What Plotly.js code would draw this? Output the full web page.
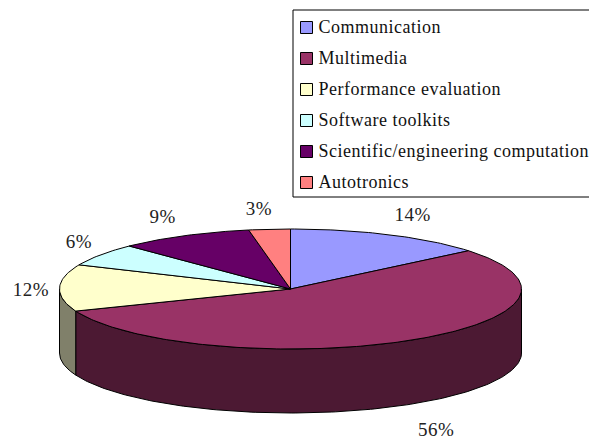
<!DOCTYPE html>
<html>
<head>
<meta charset="utf-8">
<script src="https://cdn.plot.ly/plotly-3.0.1.min.js"></script>
<style>html,body{margin:0;padding:0;background:#fff}#chart{width:589px;height:438px}</style>
</head>
<body>
<div id="chart"></div>
<script>
const categories = ["Communication","Multimedia","Performance evaluation","Software toolkits","Scientific/engineering computation","Autotronics"];
const percentLabels = ["14%","56%","12%","6%","9%","3%"];
const sliceShares = [14.0,55.0,12.6,6.1,9.4,2.9];
const topColors = ["#9999FF","#993366","#FFFFCC","#CCFFFF","#660066","#FF8080"];
const wallColors = ["#4C4C80","#4C1933","#80806A","#668080","#330033","#804040"];
const labelNudgeX = [12,14,-1,1,-9,-8];
const labelNudgeY = [2,7,4,1,2,3];

const cx=290.5, cy=289, rx=231, ry=60, depth=64;
const ptX=a=>cx+rx*Math.sin(a*Math.PI/180);
const ptY=(a,d=0)=>cy-ry*Math.cos(a*Math.PI/180)+d;
function arc(a0,a1){const out=[];const n=Math.max(2,Math.ceil(Math.abs(a1-a0)));for(let i=0;i<=n;i++)out.push(a0+(a1-a0)*i/n);return out;}

const total=sliceShares.reduce((s,v)=>s+v,0);
let run=0;
const spans=sliceShares.map(v=>{const a=run/total*360;run+=v;return [a,run/total*360];});

const base={type:"scatter",mode:"lines",fill:"toself",hoverinfo:"skip",showlegend:false,line:{color:"#000",width:1}};
const traces=[];

// front walls
spans.forEach(([a0,a1],i)=>{
  const s=Math.max(a0,90), e=Math.min(a1,270);
  if(e<=s) return;
  const top=arc(s,e), bot=top.slice().reverse();
  traces.push({...base,name:categories[i]+" side",fillcolor:wallColors[i],
    x:top.map(ptX).concat(bot.map(ptX),[ptX(s)]),
    y:top.map(a=>ptY(a)).concat(bot.map(a=>ptY(a,depth)),[ptY(s)])});
});
// top faces
spans.forEach(([a0,a1],i)=>{
  const t=arc(a0,a1);
  traces.push({...base,name:categories[i],fillcolor:topColors[i],
    x:[cx].concat(t.map(ptX),[cx]),
    y:[cy].concat(t.map(a=>ptY(a)),[cy])});
});
// percent labels
traces.push({type:"scatter",mode:"text",hoverinfo:"skip",showlegend:false,cliponaxis:false,
  text:percentLabels,textposition:"middle center",
  textfont:{family:"Liberation Serif, serif",size:19,color:"#222"},
  x:spans.map(([a0,a1],i)=>{const m=(a0+a1)/2;return cx+rx*1.12*Math.sin(m*Math.PI/180)+labelNudgeX[i];}),
  y:spans.map(([a0,a1],i)=>{const m=(a0+a1)/2,c=Math.cos(m*Math.PI/180);return cy-ry*1.37*c+(c<0?depth:0)+labelNudgeY[i];})
});
// legend
const legTop=27.5, legStep=31;
const rows=categories.map((c,i)=>legTop+legStep*i);
traces.push({type:"scatter",mode:"markers",hoverinfo:"skip",showlegend:false,
  x:categories.map(()=>306.5),y:rows,
  marker:{symbol:"square",size:12,color:topColors,line:{color:"#000",width:1}}});
traces.push({type:"scatter",mode:"text",hoverinfo:"skip",showlegend:false,
  x:categories.map(()=>318.5),y:rows.map(r=>r+0.5),text:categories,textposition:"middle right",
  textfont:{family:"Liberation Serif, serif",size:18,color:"#111"}});

const layout={
  width:589,height:438,autosize:false,showlegend:false,
  margin:{l:0,r:0,t:0,b:0},paper_bgcolor:"#fff",plot_bgcolor:"#fff",
  xaxis:{range:[0,589],visible:false,fixedrange:true},
  yaxis:{range:[438,0],visible:false,fixedrange:true},
  shapes:[{type:"rect",xref:"x",yref:"y",x0:293,x1:595,y0:10,y1:197,line:{color:"#000",width:1},layer:"below"}]
};
Plotly.newPlot("chart",traces,layout,{displayModeBar:false,staticPlot:true}).then(()=>{
  document.querySelectorAll(".textpoint text").forEach(t=>{
    t.style.letterSpacing=percentLabels.includes(t.textContent)?"0.5px":"0.5px";
  });
});
</script>
</body>
</html>
